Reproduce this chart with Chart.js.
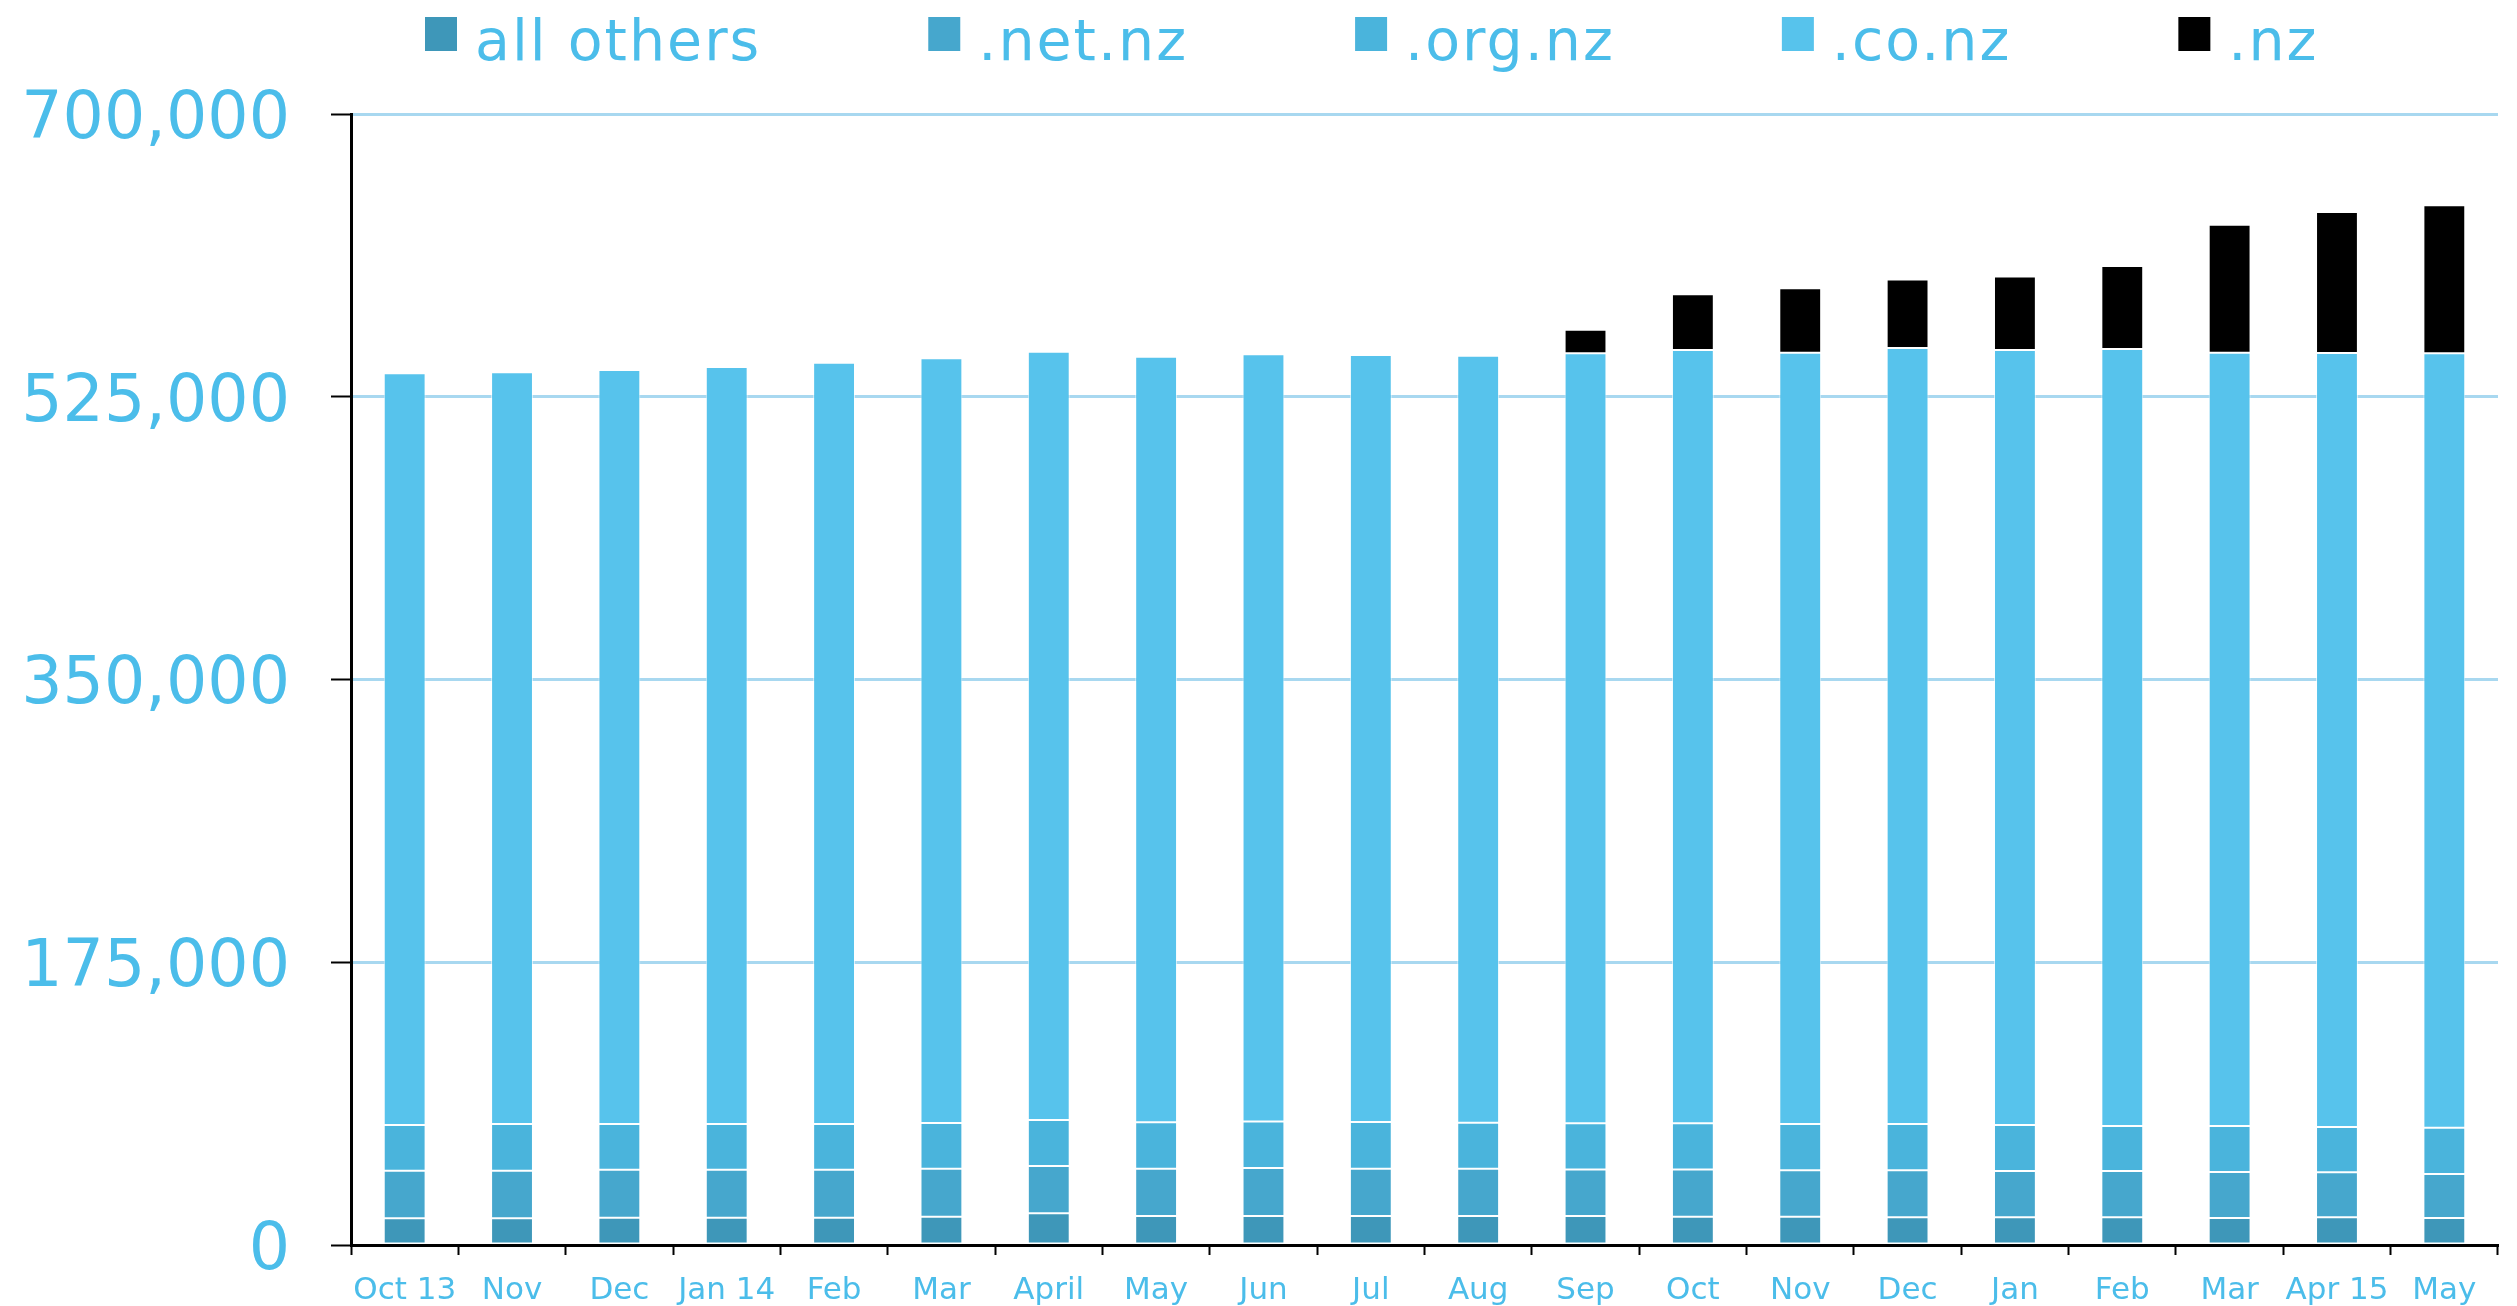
<!DOCTYPE html>
<html>
<head>
<meta charset="utf-8">
<script src="https://cdn.jsdelivr.net/npm/chart.js@4"></script>
<style>
html,body{margin:0;padding:0;background:#fff;}
canvas{display:block;}
</style>
</head>
<body>
<canvas id="c" width="2517" height="1306"></canvas>
<script>
const months = ['Oct 13','Nov','Dec','Jan 14','Feb','Mar','April','May','Jun','Jul','Aug','Sep','Oct','Nov','Dec','Jan','Feb','Mar','Apr 15','May'];
const allOthers = [16500,16500,16900,16900,16900,17500,19600,17900,17900,17900,17900,17900,17500,17500,17100,17100,17100,16700,17100,16700];
const netNz = [29500,29500,29700,29700,29700,29700,29300,29300,29700,29300,29300,28900,29300,28700,29100,28700,28700,28500,28000,27200];
const orgNz = [28300,28900,28300,28300,28300,28300,28500,28700,28900,28900,28500,28500,28500,28700,28700,28500,27800,28500,28000,28700];
const coNz = [465200,465200,466600,468500,471200,473300,475500,473900,474800,474700,474700,476700,478600,477300,480300,479600,480900,478600,479000,479300];
const nz = [null,null,null,null,null,null,null,null,null,null,null,14500,34500,39900,42300,45600,51400,79200,87300,91600];
const seriesLabels = ['all others','.net.nz','.org.nz','.co.nz','.nz'];
const yTicks = [0,175000,350000,525000,700000];

const TEXT = '#4BBDEA';
const FONT = "'DejaVu Sans', 'Open Sans', sans-serif";
const colors = ['#3E97B9','#46A7CD','#4AB4DC','#57C3EC','#000000'];
const seriesData = [allOthers, netNz, orgNz, coNz, nz];

const customLegend = {
  id: 'customLegend',
  afterDraw(chart) {
    const ctx = chart.ctx;
    ctx.save();
    ctx.font = '57px ' + FONT;
    ctx.letterSpacing = '2px';
    ctx.textBaseline = 'alphabetic';
    ctx.textAlign = 'left';
    let x = 425;
    chart.data.datasets.forEach(ds => {
      ctx.fillStyle = ds.backgroundColor;
      ctx.fillRect(x, 17, 32, 34);
      x += 32 + 18;
      ctx.fillStyle = TEXT;
      ctx.fillText(ds.label, x, 60);
      x += ctx.measureText(ds.label).width + 167;
    });
    ctx.restore();
  }
};

new Chart(document.getElementById('c'), {
  type: 'bar',
  data: {
    labels: months,
    datasets: seriesLabels.map((l, i) => ({
      label: l,
      data: seriesData[i],
      backgroundColor: colors[i],
      borderColor: 'rgba(255,255,255,0.65)',
      borderWidth: 1,
      borderSkipped: false,
      barPercentage: 0.39,
      categoryPercentage: 1.0
    }))
  },
  options: {
    responsive: false,
    animation: false,
    layout: { padding: { top: 114, right: 19, bottom: 0, left: 0 } },
    plugins: { legend: { display: false }, tooltip: { enabled: false } },
    scales: {
      x: {
        stacked: true,
        offset: true,
        afterFit(s) { s.height = 61; s.paddingLeft = 0; s.paddingRight = 0; },
        grid: { offset: true, drawOnChartArea: false, drawTicks: true, tickLength: 10, tickColor: '#000', tickWidth: 2 },
        border: { display: true, color: '#000', width: 3 },
        ticks: { color: TEXT, font: { family: FONT, size: 31 }, padding: 17, maxRotation: 0, autoSkip: false }
      },
      y: {
        stacked: true,
        min: 0,
        max: 700000,
        afterFit(s) { s.width = 351; s.paddingTop = 0; s.paddingBottom = 0; },
        afterBuildTicks(s) { s.ticks = yTicks.map(v => ({ value: v })); },
        grid: { color: '#A8D8F0', lineWidth: 3, drawTicks: true, tickLength: 20, tickColor: '#000', tickWidth: 2 },
        border: { display: true, color: '#000', width: 3 },
        ticks: {
          color: TEXT,
          font: { family: FONT, size: 65 },
          padding: 41,
          labelOffset: 7,
          callback: v => Number(v).toLocaleString('en-US')
        }
      }
    }
  },
  plugins: [customLegend]
});
</script>
</body>
</html>
